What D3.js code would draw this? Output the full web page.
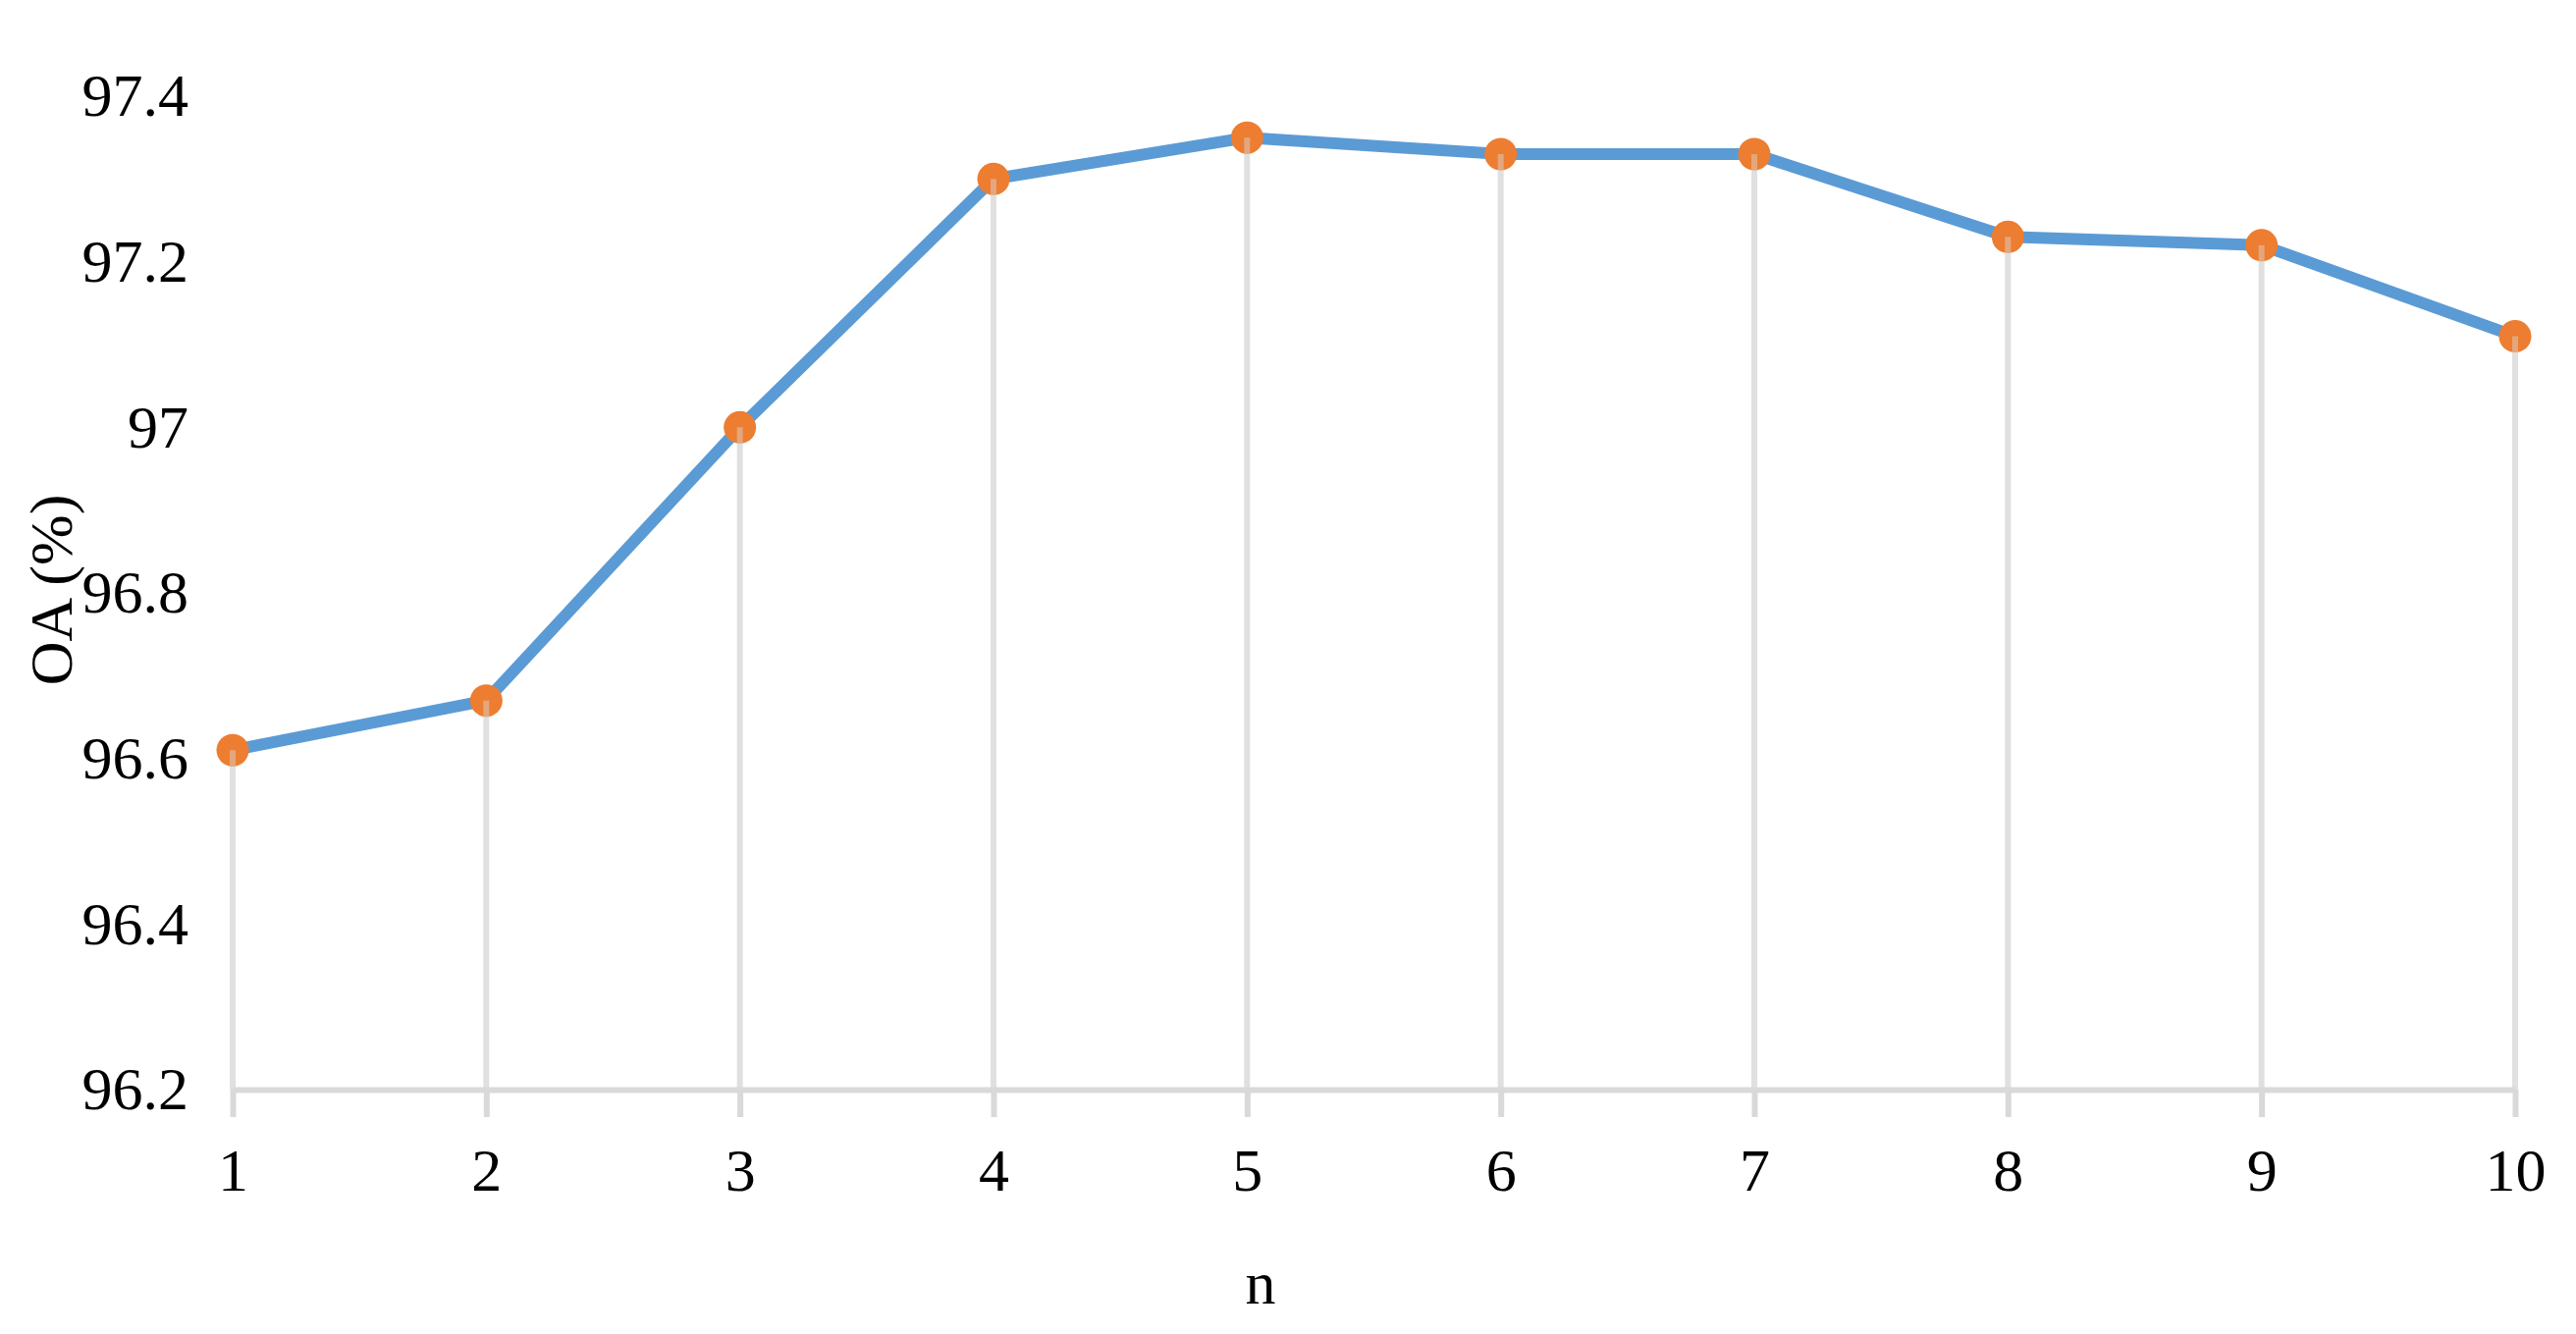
<!DOCTYPE html>
<html>
<head>
<meta charset="utf-8">
<script src="https://d3js.org/d3.v7.min.js"></script>
<style>
    html, body { margin: 0; padding: 0; background: #ffffff; }
    #chart { width: 2624px; height: 1359px; }
    .axis text { font-family: "Liberation Serif", "Times New Roman", serif; font-size: 62px; fill: #000000; }
    .label { font-family: "Liberation Serif", "Times New Roman", serif; font-size: 62px; fill: #000000; }
</style>
</head>
<body>
<div id="chart"></div>
<script>
// n values on the x axis
var categories = ["1", "2", "3", "4", "5", "6", "7", "8", "9", "10"];
// OA (%) for each n
var oaValues = [96.61, 96.67, 97.00, 97.30, 97.35, 97.33, 97.33, 97.23, 97.22, 97.11];
// y axis ticks
var yTickValues = [96.2, 96.4, 96.6, 96.8, 97.0, 97.2, 97.4];
var yTickLabels = ["96.2", "96.4", "96.6", "96.8", "97", "97.2", "97.4"];

function LineChart(container){
    this.container = container;
    this.svg = null;
    this.width = 2624;
    this.height = 1359;

    this.axis = {};
    this.axis.x = null;
    this.axis.y = null;

    this.markerR = 16.5;
    this.data = [];
}

LineChart.prototype = {
    constructor: LineChart,

    loadData: function(){
        this.data = [];
        for (let i = 0; i < categories.length; i++){
            this.data.push({ n: categories[i], oa: oaValues[i] });
        }
    },

    init: function(){
        var self = this;
        self.loadData();

        self.axis.x = d3.scalePoint().domain(categories).range([237, 2562]);
        self.axis.y = d3.scaleLinear().domain([96.2, 97.4]).range([1110, 98]);

        self.svg = d3.select(self.container).append("svg")
            .attr("width", self.width)
            .attr("height", self.height);

        self.svg.append("rect")
            .attr("width", self.width)
            .attr("height", self.height)
            .attr("fill", "#ffffff");

        // drop lines from each point down to the axis
        self.svg.selectAll(".drop")
            .data(self.data)
            .enter().append("line")
            .attr("class", "drop")
            .attr("x1", function(d) { return self.axis.x(d.n); })
            .attr("x2", function(d) { return self.axis.x(d.n); })
            .attr("y1", function(d) { return self.axis.y(d.oa); })
            .attr("y2", self.axis.y(96.2))
            .attr("stroke", "#e0e0e0")
            .attr("stroke-width", 6);

        // x axis
        var xAxis = d3.axisBottom(self.axis.x)
            .tickSizeInner(28)
            .tickSizeOuter(0)
            .tickPadding(31);

        var gx = self.svg.append("g")
            .attr("class", "x axis")
            .attr("transform", "translate(0," + self.axis.y(96.2) + ")")
            .call(xAxis);
        gx.select(".domain")
            .attr("stroke", "#d9d9d9")
            .attr("stroke-width", 6);
        gx.selectAll(".tick line")
            .attr("stroke", "#d9d9d9")
            .attr("stroke-width", 6);

        // y axis, labels only
        var yAxis = d3.axisLeft(self.axis.y)
            .tickValues(yTickValues)
            .tickFormat(function(d, i) { return yTickLabels[i]; })
            .tickSize(0)
            .tickPadding(45);

        var gy = self.svg.append("g")
            .attr("class", "y axis")
            .attr("transform", "translate(" + self.axis.x(categories[0]) + ",0)")
            .call(yAxis);
        gy.select(".domain").remove();

        // series line
        var line = d3.line()
            .x(function(d) { return self.axis.x(d.n); })
            .y(function(d) { return self.axis.y(d.oa); });

        self.svg.append("path")
            .datum(self.data)
            .attr("fill", "none")
            .attr("stroke", "#5b9bd5")
            .attr("stroke-width", 12)
            .attr("stroke-linejoin", "round")
            .attr("stroke-linecap", "round")
            .attr("d", line);

        self.svg.selectAll(".dot")
            .data(self.data)
            .enter().append("circle")
            .attr("class", "dot")
            .attr("r", self.markerR)
            .attr("cx", function(d) { return self.axis.x(d.n); })
            .attr("cy", function(d) { return self.axis.y(d.oa); })
            .attr("fill", "#ed7d31");

        // the drop line shows faintly through the lower half of the marker
        self.svg.selectAll(".drop-over")
            .data(self.data)
            .enter().append("line")
            .attr("class", "drop-over")
            .attr("x1", function(d) { return self.axis.x(d.n); })
            .attr("x2", function(d) { return self.axis.x(d.n); })
            .attr("y1", function(d) { return self.axis.y(d.oa); })
            .attr("y2", function(d) { return self.axis.y(d.oa) + self.markerR; })
            .attr("stroke", "#d9d9d9")
            .attr("stroke-opacity", 0.45)
            .attr("stroke-width", 6);

        // axis titles
        self.svg.append("text")
            .attr("class", "label")
            .attr("x", 1284)
            .attr("y", 1328)
            .style("text-anchor", "middle")
            .text("n");

        self.svg.append("text")
            .attr("class", "label")
            .attr("transform", "translate(73,601) rotate(-90)")
            .style("text-anchor", "middle")
            .text("OA (%)");
    }
}

var chart = new LineChart("#chart");
chart.init();
</script>
</body>
</html>
